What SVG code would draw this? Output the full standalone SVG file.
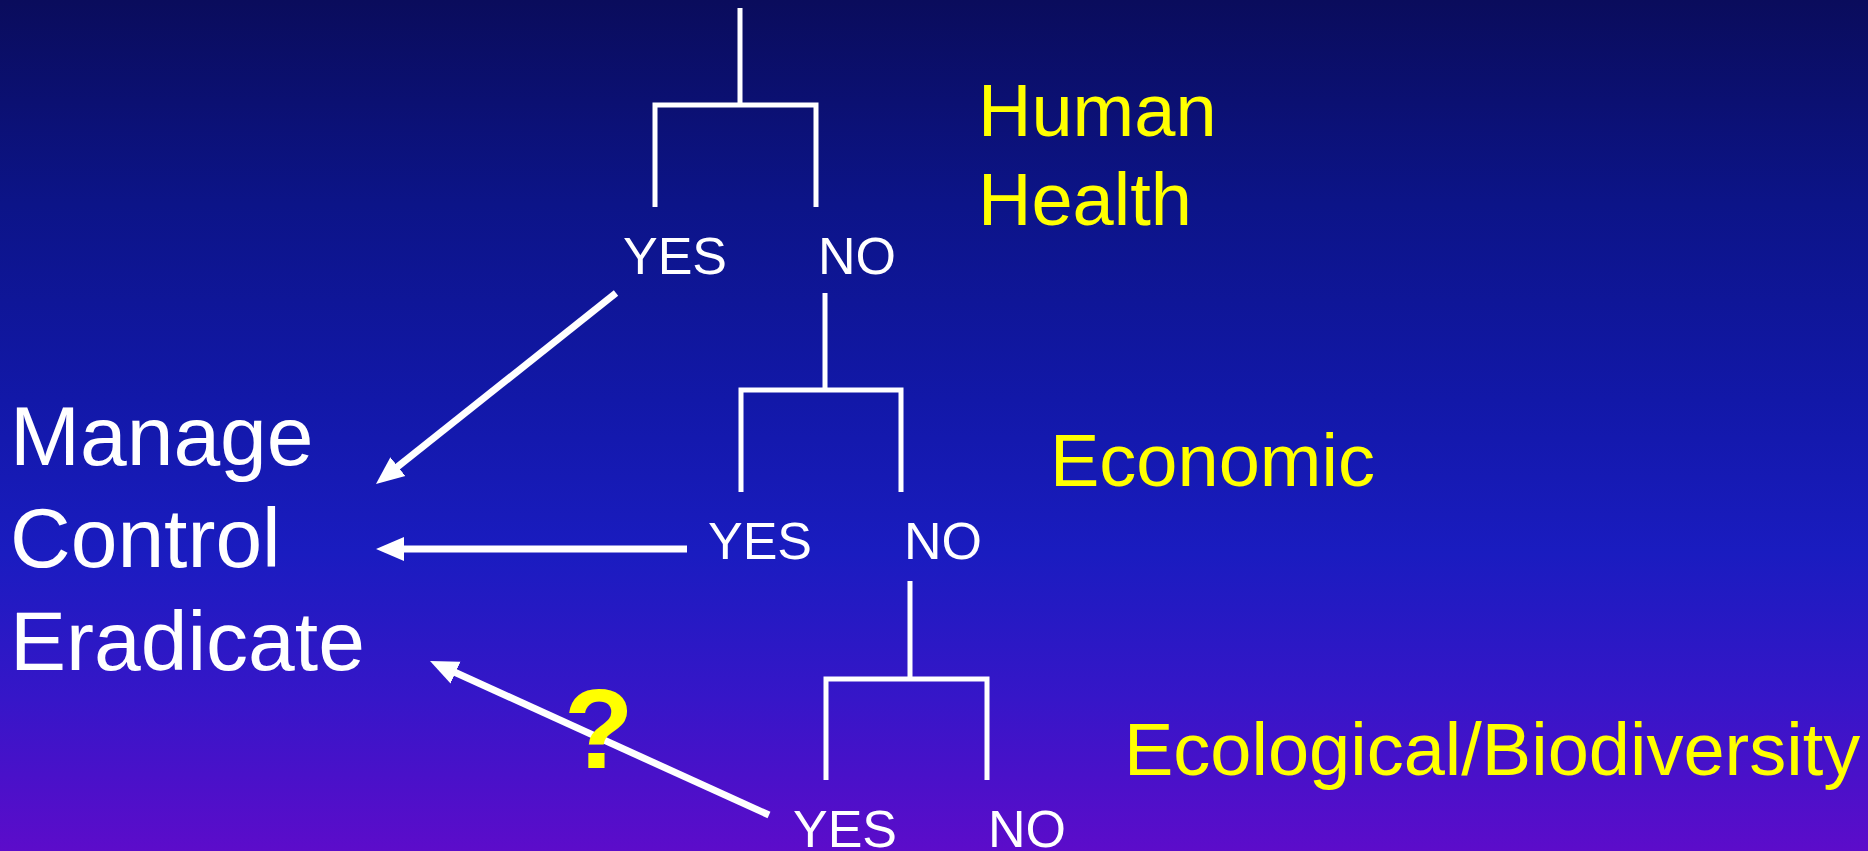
<svg xmlns="http://www.w3.org/2000/svg" width="1868" height="851" viewBox="0 0 1868 851">
<defs>
<linearGradient id="bg" x1="0" y1="0" x2="0" y2="1">
<stop offset="0" stop-color="#0a0c5c"/>
<stop offset="0.24" stop-color="#0c1488"/>
<stop offset="0.47" stop-color="#1218a8"/>
<stop offset="0.65" stop-color="#1a1cc0"/>
<stop offset="0.82" stop-color="#3616c8"/>
<stop offset="1" stop-color="#5c0cca"/>
</linearGradient>
<marker id="ah" markerUnits="userSpaceOnUse" markerWidth="32" markerHeight="28" refX="2" refY="13" orient="auto" viewBox="0 0 32 28">
<path d="M0,1 L28,13 L0,25 z" fill="#ffffff"/>
</marker>
<style>
.br{fill:none;stroke:#ffffff;stroke-width:5}
.ar{stroke:#ffffff;stroke-width:7;marker-end:url(#ah)}
.yn{font-family:"Liberation Sans",Arial,sans-serif;font-size:52px;fill:#ffffff}
.cat{font-family:"Liberation Sans",Arial,sans-serif;font-size:74px;fill:#ffff00}
.act{font-family:"Liberation Sans",Arial,sans-serif;font-size:84px;fill:#ffffff}
</style>
</defs>
<rect x="0" y="0" width="1868" height="851" fill="url(#bg)"/>

<g id="actions">
<text class="act" x="10" y="465">Manage</text>
<text class="act" x="10" y="567">Control</text>
<text class="act" x="10" y="670">Eradicate</text>
</g>

<g id="node-human-health">
<path class="br" d="M740,8 V105 M655,207 V105 H816 V207"/>
<text class="yn" x="623" y="274">YES</text>
<text class="yn" x="818" y="274">NO</text>
<text class="cat" x="978" y="136">Human</text>
<text class="cat" x="978" y="225">Health</text>
</g>

<g id="node-economic">
<path class="br" d="M825,293 V390 M741,492 V390 H901 V492"/>
<text class="yn" x="708" y="559">YES</text>
<text class="yn" x="904" y="559">NO</text>
<text class="cat" x="1050" y="486">Economic</text>
</g>

<g id="node-ecological">
<path class="br" d="M910,581 V679 M826,780 V679 H987 V780"/>
<text class="yn" x="793" y="847">YES</text>
<text class="yn" x="988" y="847">NO</text>
<text class="cat" x="1124" y="775">Ecological/Biodiversity</text>
</g>

<g id="connectors">
<line class="ar" x1="616" y1="293" x2="396.3" y2="467.8"/>
<line class="ar" x1="687" y1="549" x2="402" y2="549"/>
<line class="ar" x1="769" y1="815" x2="453.7" y2="671.8"/>
</g>

<g id="question">
<text x="564" y="768" font-family="'Liberation Sans',Arial,sans-serif" font-weight="bold" font-size="114" fill="#ffff00">?</text>
</g>
</svg>
